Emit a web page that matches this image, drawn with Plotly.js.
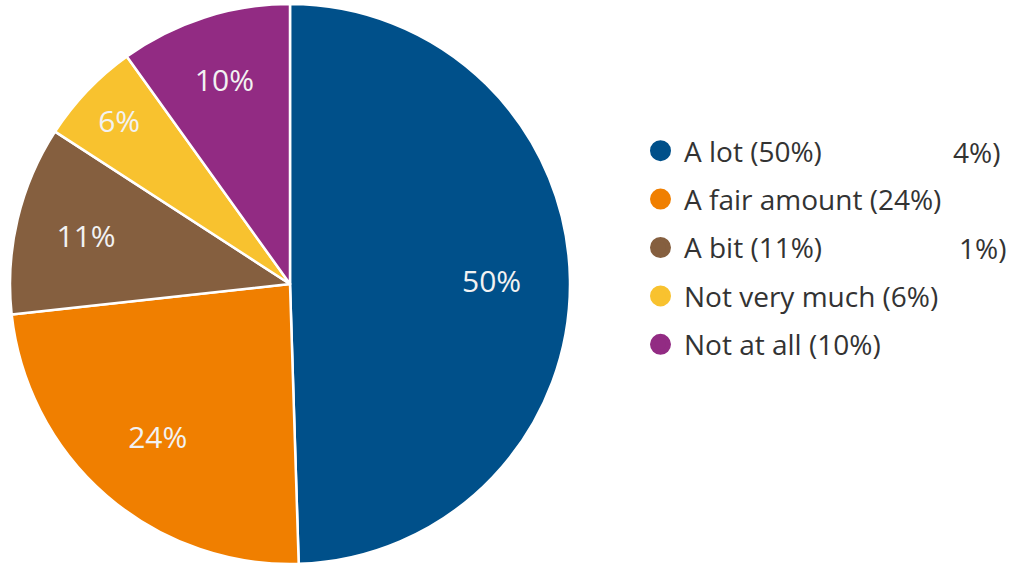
<!DOCTYPE html>
<html>
<head>
<meta charset="utf-8">
<script src="https://cdn.plot.ly/plotly-3.0.1.min.js"></script>
<style>html,body{margin:0;padding:0;background:#fff;}#chart{width:1010px;height:565px;}</style>
</head>
<body>
<div id="chart"></div>
<script>
const categories = ["A lot", "A fair amount", "A bit", "Not very much", "Not at all"];
const values = [50, 24, 11, 6, 10];
const sliceLabels = ["50%", "24%", "11%", "6%", "10%"];
const legendLabels = ["A lot (50%)", "A fair amount (24%)", "A bit (11%)", "Not very much (6%)", "Not at all (10%)"];
const colors = ["#00508a", "#f07f00", "#855f3f", "#f8c22f", "#922b83"];

const W = 1010, H = 565;
const pieDomain = {x: [10 / W, 570 / W], y: [1 / H, 561 / H]};

const pie = {
  type: "pie",
  labels: categories,
  values: values,
  textinfo: "none",
  sort: false,
  direction: "clockwise",
  rotation: 0,
  marker: {colors: colors, line: {color: "#ffffff", width: 2.5}},
  showlegend: false,
  hoverinfo: "none",
  domain: pieDomain
};

// transparent ring carrying only the percentage labels
const labelRing = {
  type: "pie",
  labels: categories,
  values: values,
  text: sliceLabels,
  textinfo: "text",
  textposition: "inside",
  insidetextorientation: "horizontal",
  hole: 0.44,
  sort: false,
  direction: "clockwise",
  rotation: 0,
  marker: {colors: colors.map(() => "rgba(0,0,0,0)"), line: {width: 0}},
  textfont: {family: "Open Sans", size: 30, color: "#f2f2f2"},
  showlegend: false,
  hoverinfo: "none",
  domain: pieDomain
};

const legendTraces = categories.map((c, i) => ({
  type: "scatter",
  mode: "markers",
  x: [null], y: [null],
  name: legendLabels[i],
  legendgroup: "g" + i,
  marker: {symbol: "circle", size: 16, color: colors[i], line: {color: colors[i], width: 5}},
  showlegend: true,
  hoverinfo: "none"
}));

const layout = {
  width: W, height: H,
  margin: {l: 0, r: 0, t: 0, b: 0},
  paper_bgcolor: "#ffffff",
  plot_bgcolor: "#ffffff",
  xaxis: {visible: false, domain: [0.99, 1]},
  yaxis: {visible: false, domain: [0.99, 1]},
  showlegend: true,
  legend: {
    x: 637 / W, y: 1 - 126 / H, xanchor: "left", yanchor: "top",
    font: {family: "Open Sans", size: 28, color: "#333333"},
    tracegroupgap: 9,
    itemsizing: "trace",
    itemwidth: 37,
    bgcolor: "rgba(0,0,0,0)"
  },
  annotations: [
    {text: "4%)", x: 951 / W, y: 1 - 152 / H, xref: "paper", yref: "paper", xanchor: "left", yanchor: "middle", showarrow: false, font: {family: "Open Sans", size: 28, color: "#333333"}},
    {text: "1%)", x: 957 / W, y: 1 - 248 / H, xref: "paper", yref: "paper", xanchor: "left", yanchor: "middle", showarrow: false, font: {family: "Open Sans", size: 28, color: "#333333"}}
  ]
};

Plotly.newPlot("chart", [pie, labelRing].concat(legendTraces), layout, {displayModeBar: false, staticPlot: true});
</script>
</body>
</html>
